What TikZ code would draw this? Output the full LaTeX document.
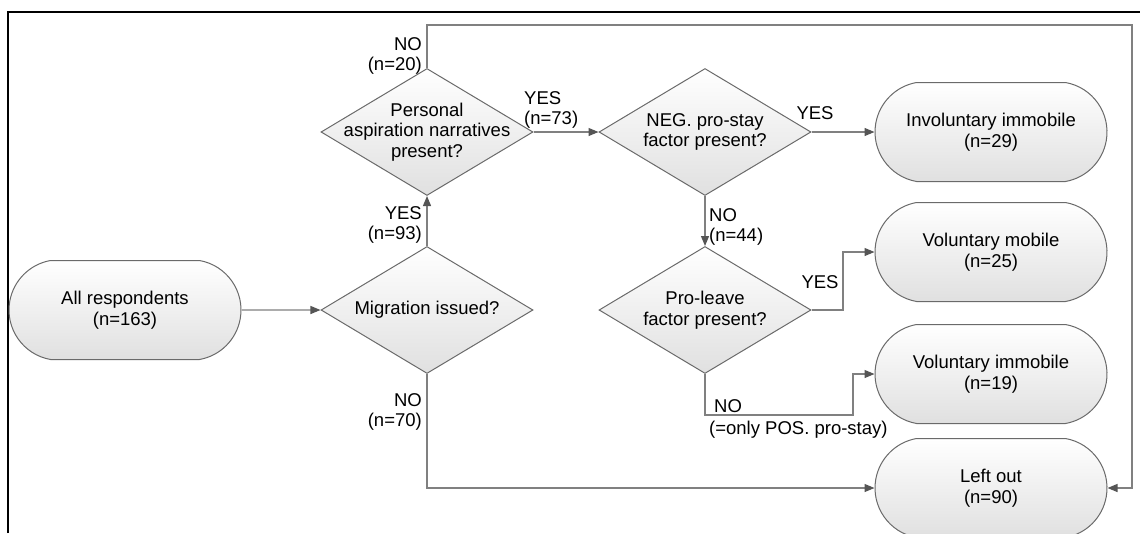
\documentclass[tikz,border=0pt]{standalone}
\usepackage{fontspec}
\setmainfont{Liberation Sans}
\usepackage{tikz}
\usetikzlibrary{arrows.meta,positioning,shapes,calc}
\definecolor{linegray}{HTML}{808080}
\definecolor{edgegray}{HTML}{6A6A6A}
\definecolor{shadegray}{HTML}{E0E0E0}
\definecolor{tipgray}{HTML}{555555}

\begin{document}
\begin{tikzpicture}[x=1pt, y=-1pt, font=\fontsize{18.5}{20.5}\selectfont,
end node/.style={rounded rectangle, rounded rectangle arc length=160, draw=edgegray, line width=1pt, top color=white, bottom color=shadegray, minimum width=232pt, minimum height=99pt, inner sep=0pt, align=center},
test node/.style={diamond, draw=edgegray, line width=1pt, top color=white, bottom color=shadegray, minimum width=212pt, minimum height=127pt, inner sep=0pt},
test text/.style={align=center, inner sep=0pt},
lbl node/.style={inner sep=0pt},
flow/.style={draw=linegray, line width=1.2pt, -{Triangle[length=10pt,width=8pt,color=tipgray]}}]%y runs downwards
\useasboundingbox (0,0) rectangle (1140,533);
\draw[black, line width=1.2pt] (8,533) -- (8,12) -- (1140,12);
\begin{scope}
\node[end node] (all) at (125,310) {All respondents\\(n=163)};
\node[test node, label={[test text]center:Migration issued?}] (mig) at (427,310) {};
\node[test node, label={[test text]center:Personal\\aspiration narratives\\present?}] (pers) at (427,132) {};
\node[test node, label={[test text]center:NEG. pro-stay\\factor present?}] (neg) at (705,132) {};
\node[test node, label={[test text]center:Pro-leave\\factor present?}] (pro) at (705,310) {};
\node[end node] (inv) at (991,132) {Involuntary immobile\\(n=29)};
\node[end node] (vmob) at (991,252) {Voluntary mobile\\(n=25)};
\node[end node] (vimm) at (991,374) {Voluntary immobile\\(n=19)};
\node[end node] (out) at (991,488) {Left out\\(n=90)};
\end{scope}
\coordinate (loop) at (1132,25);
\coordinate (yesbend) at (843,310);
\coordinate (nobend) at (853,415);
\begin{scope}
\draw[flow] (all) -- (mig);
\draw[flow] (mig) -- (pers);
\draw[flow] (pers) -- (neg);
\draw[flow] (neg) -- (inv);
\draw[flow] (neg) -- (pro);
\draw[flow] (pro.east) -- (yesbend) |- (vmob.west);
\draw[flow] (pro.south) |- (nobend) |- (vimm.west);
\draw[flow] (mig.south) |- (out.west);
\draw[flow] (pers.north) |- (loop) |- (out.east);
\end{scope}
\node[lbl node, anchor=south east, align=right] (no20) at (422,75) {NO\\(n=20)};
\node[lbl node, anchor=south west, align=left] (yes73) at (524,129) {YES\\(n=73)};
\node[lbl node, anchor=south] (yes29) at (815,120) {YES};
\node[lbl node, anchor=south west, align=left] (no44) at (709,246) {NO\\(n=44)};
\node[lbl node, anchor=south east, align=right] (yes93) at (422,244) {YES\\(n=93)};
\node[lbl node, anchor=south] (yes25) at (820,289) {YES};
\node[lbl node, anchor=south west] (no19) at (714,413) {NO};
\node[lbl node, anchor=north west] (pos19) at (709,421) {(=only POS. pro-stay)};
\node[lbl node, anchor=east, align=right] (no70) at (422,412) {NO\\(n=70)};
\end{tikzpicture}
\end{document}
